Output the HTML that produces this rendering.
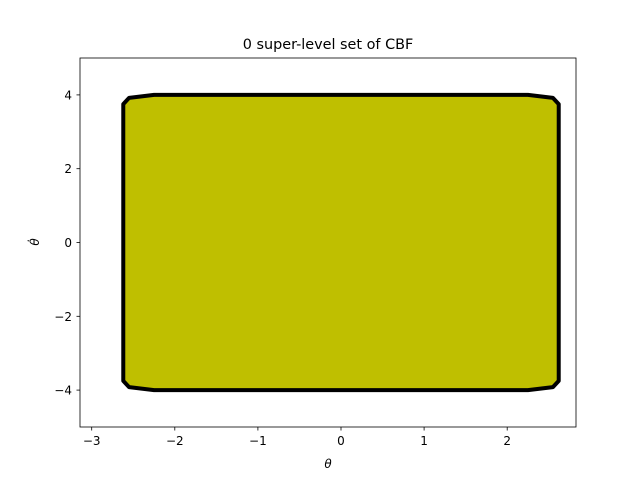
<!DOCTYPE html>
<html><head><meta charset="utf-8"><style>
body{margin:0;background:#fff}
svg text{font-family:"DejaVu Sans","Liberation Sans",sans-serif;fill:#000}
</style></head><body>
<svg width="640" height="480" xmlns="http://www.w3.org/2000/svg">
<rect width="640" height="480" fill="#fff"/>
<text x="328" y="49" font-size="14.4" text-anchor="middle">0 super-level set of CBF</text>
<g id="plot"></g>
<rect x="80" y="58" width="496" height="369" fill="none" stroke="#000" stroke-width="0.8"/>
<g id="ticks"></g>
<text x="328" y="468" font-size="12" text-anchor="middle" font-style="italic">θ</text>
<text transform="translate(39,242) rotate(-90)" font-size="12" text-anchor="middle" font-style="italic">θ̇</text>
</svg>
<script>
const xTicks=[-3,-2,-1,0,1,2];
const yTicks=[-4,-2,0,2,4];
const boundaryX=[-2.62,-2.55,-2.25,2.25,2.55,2.62,2.62,2.55,2.25,-2.25,-2.55,-2.62];
const boundaryY=[3.75,3.92,4,4,3.92,3.75,-3.75,-3.92,-4,-4,-3.92,-3.75];
const sx=v=>341+v*83.1, sy=v=>242.5-v*36.9;
const NS="http://www.w3.org/2000/svg";
const plot=document.getElementById('plot'), tk=document.getElementById('ticks');
const poly=document.createElementNS(NS,'polygon');
poly.setAttribute('points',boundaryX.map((x,i)=>sx(x)+','+sy(boundaryY[i])).join(' '));
poly.setAttribute('fill','#bfbf00');poly.setAttribute('stroke','#000');poly.setAttribute('stroke-width','4');poly.setAttribute('stroke-linejoin','round');


plot.appendChild(poly);
xTicks.forEach(t=>{const x=sx(t);
 const l=document.createElementNS(NS,'line');l.setAttribute('x1',x);l.setAttribute('x2',x);l.setAttribute('y1',427);l.setAttribute('y2',430.5);l.setAttribute('stroke','#000');l.setAttribute('stroke-width','0.8');
 
 
 tk.appendChild(l);
 const tx=document.createElementNS(NS,'text');tx.setAttribute('x',x);tx.setAttribute('y',445);tx.setAttribute('font-size','12');tx.setAttribute('text-anchor','middle');tx.textContent=t<0?'−'+(-t):t;
 
 
 tk.appendChild(tx);});
yTicks.forEach(t=>{const y=sy(t);
 const l=document.createElementNS(NS,'line');l.setAttribute('x1',76.5);l.setAttribute('x2',80);l.setAttribute('y1',y);l.setAttribute('y2',y);l.setAttribute('stroke','#000');l.setAttribute('stroke-width','0.8');
 
 
 tk.appendChild(l);
 const tx=document.createElementNS(NS,'text');tx.setAttribute('x',72);tx.setAttribute('y',y+4.5);tx.setAttribute('font-size','12');tx.setAttribute('text-anchor','end');tx.textContent=t<0?'−'+(-t):t;
 
 
 tk.appendChild(tx);});
</script>
</body></html>
